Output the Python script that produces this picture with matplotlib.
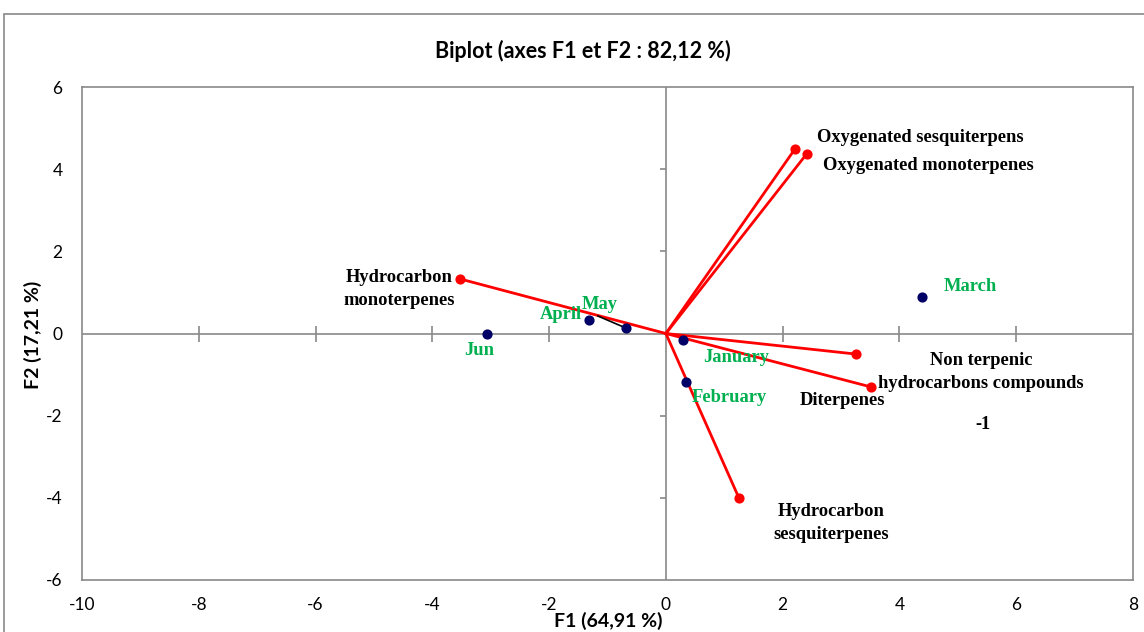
import matplotlib
matplotlib.use("Agg")
import matplotlib.pyplot as plt
from matplotlib.patches import Rectangle

plt.rcParams["axes.unicode_minus"] = False

# Variables (red vectors)
var_names = ["Oxygenated sesquiterpens", "Oxygenated monoterpenes",
             "Hydrocarbon\nmonoterpenes", "Non terpenic\nhydrocarbons compounds",
             "Diterpenes", "Hydrocarbon\nsesquiterpenes"]
var_x = [2.21, 2.41, -3.53, 3.25, 3.51, 1.25]
var_y = [4.49, 4.37, 1.33, -0.50, -1.30, -4.00]

# Observations (months)
obs_names = ["March", "Jun", "April", "May", "January", "February"]
obs_x = [4.38, -3.07, -1.32, -0.68, 0.29, 0.34]
obs_y = [0.89, -0.01, 0.33, 0.13, -0.16, -1.18]

xticks = [-10, -8, -6, -4, -2, 0, 2, 4, 6, 8]
yticks = [-6, -4, -2, 0, 2, 4, 6]

W, H = 1144, 632
fig = plt.figure(figsize=(W / 100, H / 100), dpi=100)
ax = fig.add_axes([82 / W, 1 - 580 / H, (1133 - 82) / W, (580 - 87) / H])

def dx(px):
    return (px - 666) / 58.4

def dy(py):
    return (333.5 - py) / 41.1

sans = ["Lato", "DejaVu Sans"]
serif = ["Liberation Serif", "DejaVu Serif"]
gray = "#898989"

ax.set_xlim(-10, 8)
ax.set_ylim(-6, 6)
for s in ax.spines.values():
    s.set_color(gray)
    s.set_linewidth(1.2)
ax.axhline(0, color=gray, lw=1.2, zorder=1)
ax.axvline(0, color=gray, lw=1.2, zorder=1)

ax.set_xticks(xticks)
ax.set_yticks(yticks)
ax.tick_params(length=0, labelsize=12.5, colors="black", pad=14)
ax.tick_params(axis="x", pad=12)
for lab in ax.get_xticklabels() + ax.get_yticklabels():
    lab.set_fontfamily(sans)

# cross tick marks on the axis lines
xt_inner = [t for t in xticks if t not in (-10, 0, 8)]
ax.plot(xt_inner, [0] * len(xt_inner), ls="none", marker="|", ms=12,
        mew=1.2, color=gray, zorder=1)
yt_inner = [t for t in yticks if t not in (-6, 0, 6)]
ax.plot([0] * len(yt_inner), yt_inner, ls="none", marker=[(-1, 0), (0, 0)],
        ms=9, mew=1.2, color=gray, zorder=1)

# vectors
for x, y in zip(var_x, var_y):
    ax.plot([0, x], [0, y], color="#FF0000", lw=2, zorder=3)
ax.scatter(var_x, var_y, s=40, color="#FF0000", zorder=4)

# observations
ax.scatter(obs_x, obs_y, s=40, color="#000066", zorder=5)
ax.plot([dx(598), obs_x[3]], [dy(316), obs_y[3]], color="black", lw=1.2, zorder=4)

fs = 13.3
# variable labels
var_lab_pos = [(817, 137, "left"), (823, 165, "left"), (399, 289, "center"),
               (981, 372, "center"), (843, 401, "center"), (831, 523, "center")]
for name, (px, py, ha) in zip(var_names, var_lab_pos):
    ax.text(dx(px), dy(py), name, ha=ha, va="center", fontsize=fs,
            fontweight="bold", fontfamily=serif, color="black",
            linespacing=1.4, zorder=6)
ax.text(dx(983), dy(425), "-1", ha="center", va="center", fontsize=fs,
        fontweight="bold", fontfamily=serif, color="black")

# observation labels
obs_lab_pos = [(970, 286), (479, 351), (561, 314), (600, 304), (736, 358), (729, 398)]
for name, (px, py) in zip(obs_names, obs_lab_pos):
    ax.text(dx(px), dy(py), name, ha="center", va="center", fontsize=fs,
            fontweight="bold", fontfamily=serif, color="#00B050", zorder=6)

fig.text(583 / W, 1 - 51 / H, "Biplot (axes F1 et F2 : 82,12 %)", ha="center",
         va="center", fontsize=15.5, fontweight="bold", fontfamily=sans)
fig.text(608 / W, 1 - 621 / H, "F1 (64,91 %)", ha="center", va="center",
         fontsize=14, fontweight="bold", fontfamily=sans)
fig.text(33 / W, 1 - 335 / H, "F2 (17,21 %)", ha="center", va="center",
         fontsize=14, fontweight="bold", fontfamily=sans, rotation=90)

fig.patches.append(Rectangle((4 / W, -0.1), 1.2, 1 - 14 / H + 0.1,
                             transform=fig.transFigure, fill=False,
                             edgecolor=gray, lw=1.2))

fig.savefig("out.png", dpi=100)
